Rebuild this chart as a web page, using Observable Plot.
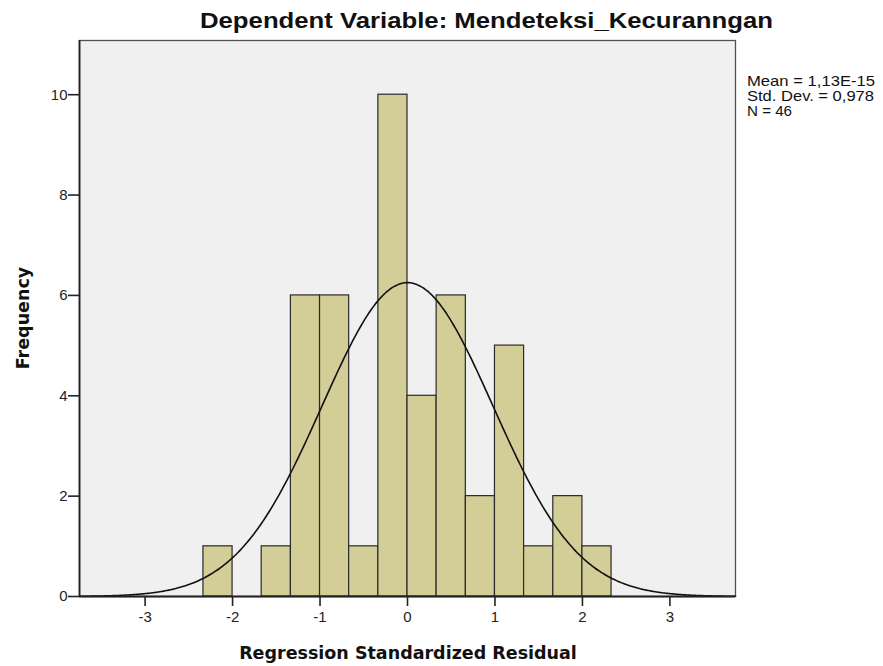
<!DOCTYPE html>
<html>
<head>
<meta charset="utf-8">
<script src="https://cdn.jsdelivr.net/npm/d3@7"></script>
<script src="https://cdn.jsdelivr.net/npm/@observablehq/plot@0.6"></script>
<style>
  html, body { margin: 0; padding: 0; background: #ffffff; }
  #chart { position: relative; width: 883px; height: 666px; overflow: hidden; }
  #chart svg g[aria-label="x-axis tick label"],
  #chart svg g[aria-label="y-axis tick label"] { font-size: 15px; }
</style>
</head>
<body>
<div id="chart"></div>
<script>
// Histogram bins (lower/upper edges) and frequencies
const binLow  = [-2.333, -1.667, -1.333, -1.000, -0.667, -0.333, 0.000, 0.333, 0.667, 1.000, 1.333, 1.667, 2.000];
const binHigh = [-2.000, -1.333, -1.000, -0.667, -0.333,  0.000, 0.333, 0.667, 1.000, 1.333, 1.667, 2.000, 2.333];
const counts  = [1, 1, 6, 6, 1, 10, 4, 6, 2, 5, 1, 2, 1];

// Summary statistics shown in the chart
const statLabels = ["Mean = 1,13E-15", "Std. Dev. = 0,978", "N = 46"];
const statMean = 1.13e-15;
const statSD = 0.978;
const statN = 46;
const binWidth = 1 / 3;

// Axis ticks
const xTicks = [-3, -2, -1, 0, 1, 2, 3];
const yTicks = [0, 2, 4, 6, 8, 10];

const titleText = "Dependent Variable: Mendeteksi_Kecuranngan";
const xLabel = "Regression Standardized Residual";
const yLabel = "Frequency";

const bars = binLow.map((lo, i) => ({x1: lo, x2: binHigh[i], y: counts[i]}));

// Fitted normal curve from the displayed mean / SD / N
const curve = d3.range(-3.75, 3.7501, 0.02).map(x => ({
  x,
  y: statN * binWidth / (statSD * Math.sqrt(2 * Math.PI)) * Math.exp(-0.5 * ((x - statMean) / statSD) ** 2)
}));

const plot = Plot.plot({
  width: 883,
  height: 666,
  marginLeft: 79,
  marginRight: 148,
  marginTop: 40,
  marginBottom: 70,
  style: {background: "#ffffff", fontFamily: "'Liberation Sans', Arial, sans-serif", fontSize: "15px", color: "#222"},
  x: {domain: [-3.75, 3.75], label: null},
  y: {domain: [0, 11.08], label: null},
  marks: [
    Plot.frame({fill: "#f0f0f0", stroke: "#505050", strokeWidth: 1.3}),
    Plot.rectY(bars, {x1: "x1", x2: "x2", y: "y", fill: "#d3ce97", stroke: "#2a2a2a", strokeWidth: 1.2, inset: 0}),
    Plot.line(curve, {x: "x", y: "y", stroke: "#111111", strokeWidth: 1.6, curve: "basis"}),
    Plot.axisX({ticks: xTicks, tickFormat: d => String(d), tickSize: 10, tickPadding: 5, stroke: "#222", fill: "#222", fontSize: 15, strokeWidth: 1.6}),
    Plot.axisY({ticks: yTicks, tickFormat: d => String(d), tickSize: 11, tickPadding: 1, stroke: "#222", fill: "#222", fontSize: 15, strokeWidth: 1.6}),
    Plot.ruleY([0], {stroke: "#222", strokeWidth: 1.8}),
    Plot.ruleX([-3.75], {stroke: "#222", strokeWidth: 1.8})
  ]
});

const svg = d3.select(plot);
svg.append("text")
  .attr("x", 200).attr("y", 28)
  .attr("text-anchor", "start")
  .attr("font-family", "'Liberation Sans', Arial, sans-serif")
  .attr("font-size", 22).attr("font-weight", "bold")
  .attr("textLength", 573).attr("lengthAdjust", "spacingAndGlyphs")
  .attr("fill", "#111")
  .text(titleText);

svg.append("text")
  .attr("x", 408).attr("y", 659)
  .attr("text-anchor", "middle")
  .attr("font-family", "'DejaVu Sans', Verdana, sans-serif")
  .attr("font-size", 17.5).attr("font-weight", "bold")
  .attr("fill", "#111")
  .text(xLabel);

svg.append("text")
  .attr("transform", "translate(29,318) rotate(-90)")
  .attr("text-anchor", "middle")
  .attr("font-family", "'DejaVu Sans', Verdana, sans-serif")
  .attr("font-size", 17.5).attr("font-weight", "bold")
  .attr("fill", "#111")
  .text(yLabel);

const statWidths = [128, 127, 45];
statLabels.forEach((s, i) => {
  svg.append("text")
    .attr("x", 747).attr("y", 86 + i * 15)
    .attr("text-anchor", "start")
    .attr("font-family", "'Liberation Sans', Arial, sans-serif")
    .attr("font-size", 15).attr("fill", "#111")
    .attr("textLength", statWidths[i]).attr("lengthAdjust", "spacingAndGlyphs")
    .text(s);
});

document.getElementById("chart").appendChild(plot);
</script>
</body>
</html>
